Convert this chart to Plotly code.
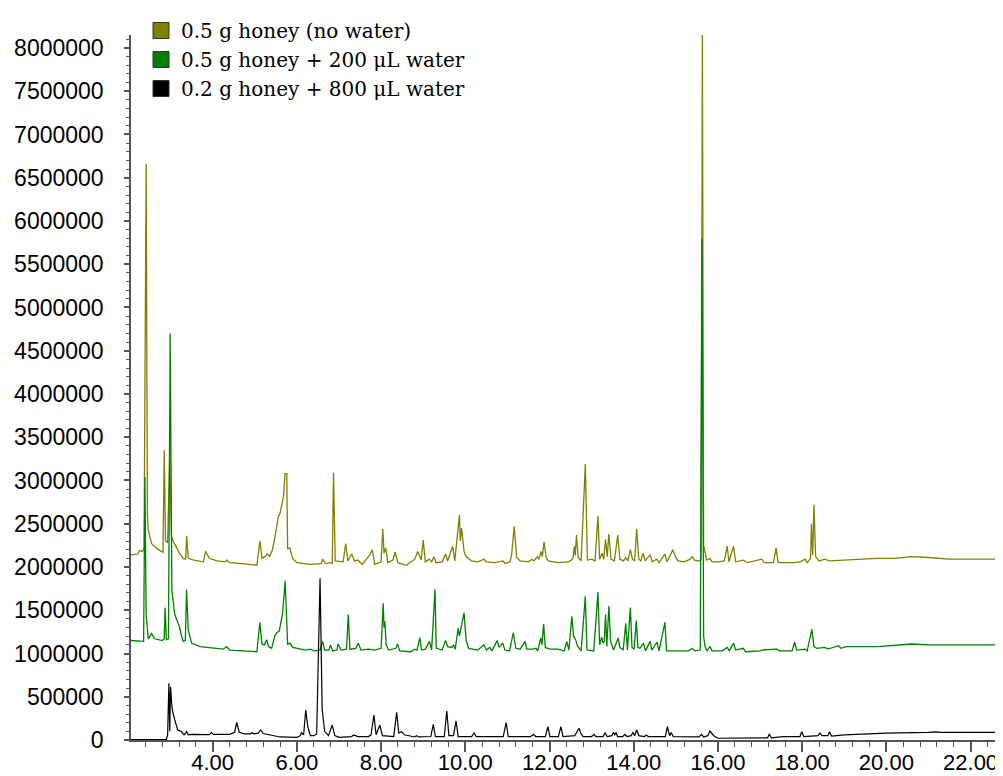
import plotly.graph_objects as go

# ---------------- data (retention time in min, abundance) ----------------
series_names = ["0.5 g honey (no water)", "0.5 g honey + 200 \u03bcL water", "0.2 g honey + 800 \u03bcL water"]
series_colors = ["#808000", "#008000", "#000000"]

olive_rt = [2.06, 2.22, 2.26, 2.33, 2.37, 2.42, 2.45, 2.47, 2.55, 2.71, 2.82, 2.85, 2.88, 2.93, 2.98, 3.02, 3.05,
            3.12, 3.20, 3.30, 3.36, 3.38, 3.42, 3.55, 3.78, 3.83, 3.92, 4.10, 4.30, 4.33, 4.40, 4.70, 5.05, 5.12,
            5.17, 5.24, 5.30, 5.35, 5.42, 5.48, 5.56, 5.60, 5.68, 5.72, 5.76, 5.78, 5.83, 5.90, 6.00, 6.30, 6.58,
            6.61, 6.68, 6.80, 6.84, 6.87, 6.91, 7.10, 7.16, 7.21, 7.30, 7.37, 7.45, 7.55, 7.65, 7.73, 7.79, 7.85,
            8.00, 8.04, 8.07, 8.11, 8.16, 8.28, 8.33, 8.40, 8.60, 8.80, 8.87, 8.91, 8.95, 9.00, 9.05, 9.15, 9.20,
            9.26, 9.30, 9.45, 9.53, 9.58, 9.70, 9.75, 9.86, 9.88, 9.91, 9.97, 10.02, 10.15, 10.30, 10.44, 10.50,
            10.70, 10.89, 10.95, 11.06, 11.10, 11.16, 11.22, 11.30, 11.50, 11.58, 11.63, 11.71, 11.75, 11.80,
            11.83, 11.87, 11.92, 11.97, 12.20, 12.45, 12.52, 12.56, 12.59, 12.61, 12.64, 12.68, 12.75, 12.85,
            12.90, 13.00, 13.08, 13.15, 13.19, 13.25, 13.29, 13.33, 13.37, 13.41, 13.46, 13.54, 13.62, 13.67,
            13.76, 13.81, 13.86, 13.92, 13.97, 14.02, 14.07, 14.12, 14.17, 14.22, 14.27, 14.39, 14.44, 14.55,
            14.60, 14.74, 14.79, 14.93, 14.99, 15.05, 15.20, 15.34, 15.39, 15.44, 15.55, 15.60, 15.63, 15.66,
            15.69, 15.73, 15.81, 15.86, 16.00, 16.15, 16.22, 16.26, 16.37, 16.42, 16.60, 16.70, 17.04, 17.10,
            17.32, 17.38, 17.43, 17.80, 17.95, 18.07, 18.12, 18.20, 18.22, 18.25, 18.28, 18.32, 18.40, 18.54,
            18.65, 19.00, 19.77, 20.20, 20.60, 21.00, 21.50, 22.00, 22.77]
olive_int = [2.14, 2.15, 2.19, 2.18, 2.22, 6.66, 2.60, 2.43, 2.27, 2.20, 2.17, 3.35, 2.30, 2.28, 3.30, 2.36, 2.31,
             2.24, 2.17, 2.10, 2.09, 2.36, 2.10, 2.08, 2.06, 2.18, 2.10, 2.07, 2.06, 2.08, 2.05, 2.04, 2.02, 2.30,
             2.10, 2.12, 2.15, 2.12, 2.20, 2.35, 2.58, 2.62, 2.81, 3.08, 3.08, 2.21, 2.22, 2.10, 2.05, 2.03, 2.04,
             2.09, 2.04, 2.05, 2.04, 3.09, 2.07, 2.06, 2.27, 2.07, 2.15, 2.07, 2.08, 2.03, 2.09, 2.14, 2.20, 2.03,
             2.06, 2.44, 2.16, 2.22, 2.05, 2.08, 2.17, 2.05, 2.02, 2.09, 2.18, 2.12, 2.08, 2.31, 2.06, 2.09, 2.06,
             2.12, 2.05, 2.06, 2.15, 2.07, 2.24, 2.07, 2.60, 2.30, 2.45, 2.18, 2.12, 2.07, 2.06, 2.09, 2.06,
             2.05, 2.07, 2.04, 2.06, 2.14, 2.47, 2.11, 2.07, 2.06, 2.09, 2.07, 2.12, 2.09, 2.18,
             2.12, 2.29, 2.11, 2.07, 2.05, 2.06, 2.08, 2.11, 2.24, 2.13, 2.37, 2.11, 2.07, 3.19,
             2.08, 2.09, 2.07, 2.59, 2.09, 2.16, 2.09, 2.32, 2.12, 2.38, 2.09, 2.07, 2.37, 2.09,
             2.07, 2.11, 2.07, 2.20, 2.09, 2.07, 2.44, 2.09, 2.07, 2.16, 2.07, 2.14, 2.06, 2.09,
             2.05, 2.15, 2.06, 2.20, 2.12, 2.07, 2.06, 2.09, 2.12, 2.08, 2.07, 2.09, 8.15, 2.25,
             2.18, 2.08, 2.10, 2.06, 2.06, 2.07, 2.24, 2.06, 2.24, 2.06, 2.08, 2.05, 2.09, 2.05,
             2.05, 2.22, 2.05, 2.05, 2.06, 2.09, 2.05, 2.10, 2.50, 2.14, 2.72, 2.12, 2.07, 2.09,
             2.07, 2.08, 2.10, 2.10, 2.12, 2.11, 2.09, 2.09, 2.09]

green_rt = [2.06, 2.30, 2.36, 2.39, 2.42, 2.47, 2.55, 2.62, 2.80, 2.85, 2.87, 2.90, 2.95, 2.99, 3.03, 3.10, 3.17,
            3.21, 3.25, 3.30, 3.35, 3.38, 3.42, 3.50, 3.70, 4.00, 4.25, 4.33, 4.40, 4.70, 5.05, 5.12, 5.17, 5.23,
            5.28, 5.33, 5.40, 5.48, 5.52, 5.58, 5.66, 5.72, 5.75, 5.78, 5.84, 5.90, 6.20, 6.32, 6.40, 6.55, 6.61,
            6.66, 6.76, 6.80, 6.85, 6.95, 6.98, 7.05, 7.18, 7.22, 7.26, 7.40, 7.46, 7.52, 7.70, 7.85, 8.00, 8.05,
            8.07, 8.09, 8.12, 8.18, 8.35, 8.39, 8.44, 8.70, 8.80, 8.85, 8.92, 8.96, 9.05, 9.15, 9.20, 9.28, 9.31,
            9.45, 9.53, 9.58, 9.68, 9.72, 9.76, 9.83, 9.86, 9.91, 9.97, 10.02, 10.08, 10.30, 10.44, 10.50, 10.58,
            10.63, 10.76, 10.80, 10.89, 10.94, 11.05, 11.14, 11.20, 11.30, 11.42, 11.46, 11.60, 11.68, 11.72,
            11.79, 11.82, 11.86, 11.90, 12.00, 12.20, 12.35, 12.41, 12.46, 12.53, 12.57, 12.62, 12.66, 12.75,
            12.85, 12.89, 13.05, 13.15, 13.19, 13.24, 13.27, 13.30, 13.33, 13.36, 13.41, 13.45, 13.52, 13.63,
            13.67, 13.75, 13.81, 13.85, 13.92, 13.96, 14.01, 14.06, 14.10, 14.15, 14.23, 14.28, 14.39, 14.43,
            14.55, 14.60, 14.74, 14.78, 15.00, 15.30, 15.39, 15.45, 15.58, 15.62, 15.66, 15.69, 15.74, 15.81,
            15.86, 16.10, 16.22, 16.27, 16.37, 16.42, 16.60, 16.66, 17.00, 17.04, 17.40, 17.46, 17.76, 17.82,
            17.87, 18.07, 18.12, 18.23, 18.28, 18.35, 18.54, 18.62, 18.86, 18.92, 19.05, 19.80, 20.60, 21.00,
            22.77]
green_int = [1.15, 1.14, 1.14, 3.04, 1.45, 1.17, 1.23, 1.17, 1.15, 1.17, 1.53, 1.16, 1.17, 4.70, 1.73, 1.45, 1.35,
             1.31, 1.22, 1.14, 1.15, 1.74, 1.27, 1.12, 1.08, 1.06, 1.05, 1.08, 1.04, 1.03, 1.02, 1.36, 1.11, 1.10,
             1.16, 1.08, 1.06, 1.21, 1.24, 1.26, 1.46, 1.84, 1.45, 1.11, 1.12, 1.07, 1.04, 1.05, 1.03, 1.04, 1.14,
             1.04, 1.04, 1.10, 1.03, 1.04, 1.11, 1.04, 1.05, 1.45, 1.05, 1.06, 1.12, 1.04, 1.05, 1.04, 1.06, 1.58,
             1.30, 1.37, 1.10, 1.04, 1.06, 1.11, 1.03, 1.02, 1.05, 1.04, 1.18, 1.04, 1.05, 1.14, 1.04, 1.74, 1.06,
             1.04, 1.15, 1.08, 1.07, 1.10, 1.05, 1.29, 1.20, 1.31, 1.47, 1.15, 1.06, 1.04, 1.10, 1.04, 1.07,
             1.03, 1.15, 1.07, 1.12, 1.04, 1.03, 1.24, 1.06, 1.05, 1.14, 1.05, 1.05, 1.06, 1.03,
             1.18, 1.10, 1.34, 1.07, 1.05, 1.05, 1.03, 1.14, 1.04, 1.43, 1.20, 1.16, 1.09, 1.03,
             1.66, 1.04, 1.03, 1.71, 1.10, 1.19, 1.12, 1.14, 1.45, 1.08, 1.55, 1.14, 1.04, 1.18,
             1.07, 1.04, 1.35, 1.04, 1.53, 1.07, 1.05, 1.38, 1.07, 1.06, 1.12, 1.03, 1.14, 1.04,
             1.13, 1.03, 1.36, 1.03, 1.03, 1.03, 1.06, 1.03, 1.04, 5.80, 1.20, 1.09, 1.03, 1.08,
             1.03, 1.03, 1.07, 1.03, 1.12, 1.04, 1.06, 1.02, 1.03, 1.04, 1.05, 1.03, 1.03, 1.13,
             1.04, 1.05, 1.03, 1.28, 1.08, 1.06, 1.07, 1.05, 1.09, 1.06, 1.08, 1.08, 1.11, 1.10,
             1.10]

black_rt = [2.06, 2.90, 2.93, 2.96, 2.98, 3.00, 3.03, 3.05, 3.10, 3.17, 3.25, 3.32, 3.38, 3.42, 3.50, 3.92, 3.97,
            4.02, 4.40, 4.52, 4.57, 4.63, 4.75, 4.90, 4.93, 4.97, 5.08, 5.14, 5.20, 5.35, 5.60, 6.00, 6.08, 6.11,
            6.16, 6.21, 6.26, 6.32, 6.40, 6.47, 6.55, 6.60, 6.66, 6.75, 6.84, 6.90, 7.00, 7.30, 7.35, 7.45, 7.70,
            7.76, 7.83, 7.88, 7.97, 8.03, 8.30, 8.37, 8.42, 8.49, 8.55, 8.80, 8.84, 8.90, 9.18, 9.24, 9.29, 9.50,
            9.56, 9.61, 9.72, 9.78, 9.83, 10.15, 10.21, 10.26, 10.90, 10.97, 11.02, 11.55, 11.62, 11.67, 11.90,
            11.96, 12.01, 12.21, 12.27, 12.32, 12.60, 12.70, 12.75, 12.80, 13.00, 13.06, 13.10, 13.27, 13.32,
            13.37, 13.48, 13.52, 13.55, 13.58, 13.62, 13.74, 13.79, 13.84, 13.94, 13.98, 14.02, 14.07, 14.12,
            14.25, 14.30, 14.35, 14.75, 14.80, 14.85, 14.89, 14.94, 15.55, 15.61, 15.66, 15.76, 15.81, 15.90,
            16.00, 16.50, 17.18, 17.22, 17.27, 17.55, 17.95, 17.99, 18.04, 18.38, 18.42, 18.47, 18.61, 18.65,
            18.70, 19.00, 19.50, 20.00, 21.00, 21.18, 21.30, 22.77]
black_int = [0.005, 0.008, 0.06, 0.655, 0.10, 0.616, 0.40, 0.327, 0.231, 0.116, 0.10, 0.06, 0.096, 0.06, 0.065,
             0.062, 0.085, 0.065, 0.065, 0.09, 0.204, 0.09, 0.07, 0.07, 0.085, 0.07, 0.08, 0.116, 0.075, 0.06,
             0.035, 0.03, 0.05, 0.085, 0.06, 0.347, 0.15, 0.05, 0.05, 0.07, 1.87, 0.35, 0.10, 0.05, 0.173, 0.05,
             0.03, 0.04, 0.058, 0.04, 0.04, 0.06, 0.289, 0.06, 0.173, 0.05, 0.04, 0.320, 0.08, 0.096, 0.06,
             0.035, 0.05, 0.035, 0.04, 0.181, 0.04, 0.04, 0.335, 0.05, 0.05, 0.220, 0.04, 0.04, 0.081, 0.04,
             0.04, 0.200, 0.04, 0.04, 0.065, 0.04, 0.04, 0.154, 0.04, 0.04, 0.154, 0.04, 0.05, 0.135, 0.07,
             0.04, 0.04, 0.065, 0.04, 0.04, 0.081, 0.04, 0.05, 0.089, 0.06, 0.081, 0.04, 0.04, 0.065, 0.04,
             0.05, 0.089, 0.05, 0.116, 0.05, 0.04, 0.055, 0.04, 0.04, 0.154, 0.05, 0.085, 0.04, 0.035, 0.065,
             0.035, 0.05, 0.104, 0.05, 0.02, 0.02, 0.025, 0.069, 0.025, 0.04, 0.04, 0.096, 0.04, 0.05, 0.081,
             0.05, 0.05, 0.096, 0.045, 0.06, 0.07, 0.08, 0.088, 0.095, 0.088, 0.089]

SCALE = 1e6  # intensities above are in millions

x_ticks_major = 2.0
x_ticks_minor = 0.4
y_major = 500000
y_minor = 100000

# ---------------- figure ----------------
fig = go.Figure()
all_rt = [olive_rt, green_rt, black_rt]
all_int = [olive_int, green_int, black_int]
widths = [1.3, 1.3, 1.2]
for name, color, rt, it, w in zip(series_names, series_colors, all_rt, all_int, widths):
    fig.add_trace(go.Scatter(x=rt, y=[v * SCALE for v in it], mode="lines",
                             line=dict(color=color, width=w), showlegend=False, hoverinfo="x+y",
                             name=name))

# legend entries drawn as squares
for name, color in zip(series_names, series_colors):
    fig.add_trace(go.Scatter(x=[None], y=[None], mode="markers", name=name,
                             marker=dict(symbol="square", size=16, color=color,
                                         line=dict(color="#333333", width=1))))

axis_color = "#555555"
# page body has an 8px margin, so the figure is sized to fit inside the window
fig.update_layout(
    width=995, height=768,
    margin=dict(l=123, r=0, t=27, b=36),
    paper_bgcolor="white", plot_bgcolor="white",
    showlegend=True,
    legend=dict(x=0.0115, y=1.034, xanchor="left", yanchor="top",
                font=dict(family="DejaVu Serif", size=20, color="black"),
                bgcolor="rgba(0,0,0,0)", borderwidth=0, itemsizing="trace",
                tracegroupgap=0),
    font=dict(family="Liberation Sans, Arial", size=23, color="black"),
)
fig.update_xaxes(range=[2.06, 22.77], showgrid=False, zeroline=False, automargin=False,
                 showline=True, linecolor=axis_color, linewidth=1.5,
                 ticks="outside", ticklen=10, tickwidth=1.5, tickcolor=axis_color,
                 tick0=0, dtick=x_ticks_major, tickformat=".2f",
                 ticklabelstandoff=-8,
                 minor=dict(ticks="outside", ticklen=5, tick0=0, dtick=x_ticks_minor,
                            tickcolor=axis_color, tickwidth=1),
                 tickfont=dict(size=22, family="Liberation Sans, Arial", color="black"))
fig.update_yaxes(range=[0, 8.15e6], showgrid=False, zeroline=False, automargin=False,
                 showline=True, linecolor=axis_color, linewidth=1.5,
                 ticks="outside", ticklen=5, tickwidth=1.5, tickcolor=axis_color,
                 tick0=0, dtick=y_major, tickformat="d",
                 ticklabelstandoff=16,
                 minor=dict(ticks="outside", ticklen=3, tick0=0, dtick=y_minor,
                            tickcolor=axis_color, tickwidth=1),
                 tickfont=dict(size=23, family="Liberation Sans, Arial", color="black"))

fig.write_html("out.html")
